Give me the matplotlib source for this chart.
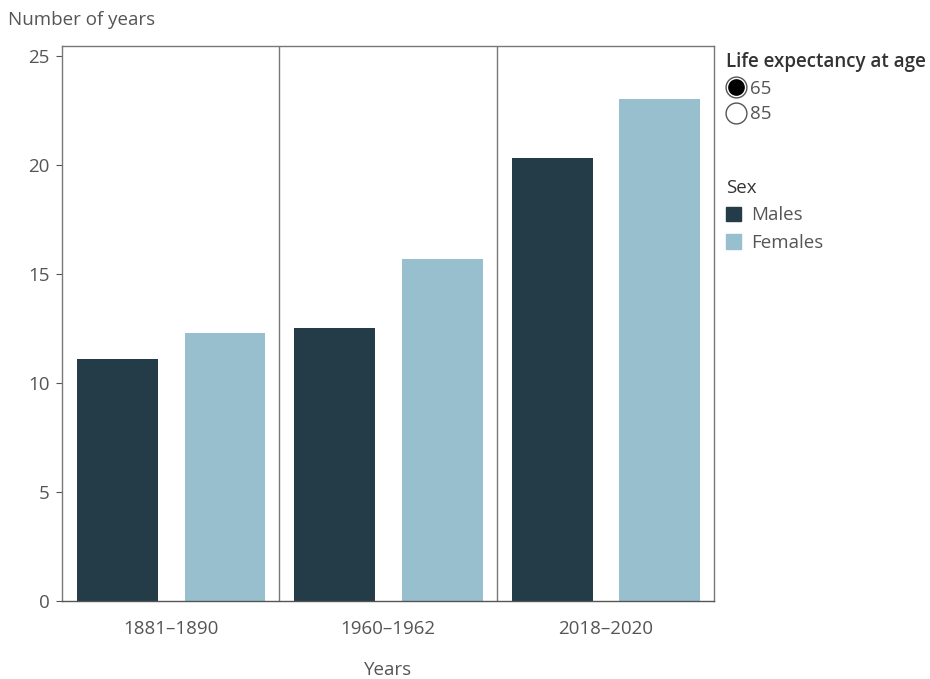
import matplotlib
matplotlib.use('Agg')
import matplotlib.pyplot as plt
import numpy as np
from matplotlib.lines import Line2D
from matplotlib.patches import Patch
from matplotlib.legend_handler import HandlerTuple

plt.rcParams['font.family'] = ['Open Sans', 'DejaVu Sans']

# data (life expectancy at age 65)
periods = ['1881–1890', '1960–1962', '2018–2020']
males = [11.1, 12.5, 20.3]
females = [12.3, 15.7, 23.0]
yticks = [0, 5, 10, 15, 20, 25]

dark = '#233c48'
light = '#98bfce'
txt = '#555555'
fs = 13.5

fig = plt.figure(figsize=(9.3, 6.79), dpi=100)
ax = fig.add_axes([0.0667, 0.1149, 0.7011, 0.8174])

x = np.arange(len(periods))
w = 0.372
ax.bar(x - 0.245, males, w, color=dark)
ax.bar(x + 0.25, females, w, color=light)

for sep in x[:-1] + 0.5:
    ax.axvline(sep, color='#777777', lw=1)

ax.set_xlim(-0.5, len(periods) - 0.5)
ax.set_ylim(0, 25.45)
ax.set_yticks(yticks)
ax.set_xticks(x)
ax.set_xticklabels(periods)
ax.tick_params(axis='y', length=4, color='#555555', labelsize=fs, labelcolor=txt, pad=5)
ax.tick_params(axis='x', length=0, labelsize=fs, labelcolor=txt, pad=14)
for s in ax.spines.values():
    s.set_color('#777777')
    s.set_linewidth(1)
ax.spines['bottom'].set_color('#555555')

fig.text(8 / 930, 1 - 20 / 679, 'Number of years', fontsize=fs, color=txt, va='center', ha='left')
ax.set_xlabel('Years', fontsize=fs, color=txt, labelpad=16)

# legend: life expectancy at age
sel = (Line2D([], [], marker='o', ls='', ms=15, mfc='white', mec='#555555', mew=1),
       Line2D([], [], marker='o', ls='', ms=11, mfc='black', mec='black'))
unsel = Line2D([], [], marker='o', ls='', ms=15, mfc='white', mec='#555555', mew=1)
leg1 = fig.legend([sel, unsel], ['65', '85'], title='Life expectancy at age',
                  handler_map={tuple: HandlerTuple(ndivide=1)},
                  loc='upper left', bbox_to_anchor=(713 / 930, 1 - 39 / 679),
                  frameon=False, fontsize=fs, title_fontsize=fs, alignment='left',
                  handlelength=1.05, handletextpad=0.2, labelspacing=0.4,
                  borderpad=0.2, labelcolor=txt)
leg1.get_title().set_color('#333333')
leg1.get_title().set_fontweight('semibold')

leg2 = fig.legend([Patch(color=dark), Patch(color=light)], ['Males', 'Females'], title='Sex',
                  loc='upper left', bbox_to_anchor=(713 / 930, 1 - 166 / 679),
                  frameon=False, fontsize=fs, title_fontsize=fs, alignment='left',
                  handlelength=0.8, handleheight=0.8, handletextpad=0.55, labelspacing=0.5,
                  borderpad=0.2, labelcolor=txt)
leg2.get_title().set_color('#333333')

fig.savefig('out.png', dpi=100)
